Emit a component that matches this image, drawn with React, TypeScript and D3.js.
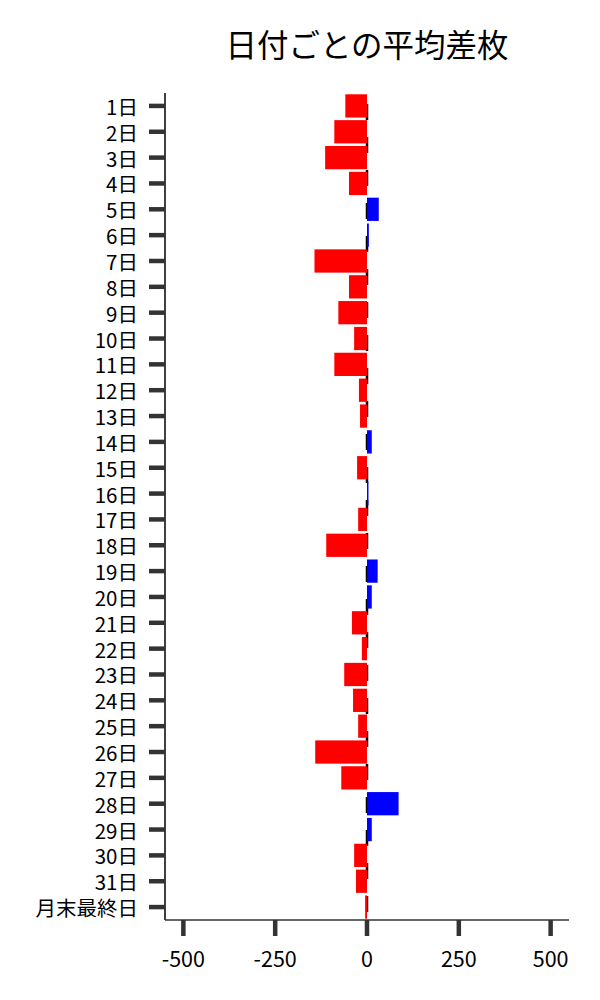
import React from "react";
import * as d3 from "d3";

const days: string[] = [
  "1日","2日","3日","4日","5日","6日","7日","8日","9日","10日",
  "11日","12日","13日","14日","15日","16日","17日","18日","19日","20日",
  "21日","22日","23日","24日","25日","26日","27日","28日","29日","30日",
  "31日","月末最終日",
];
const avgDiff: number[] = [
  -59, -89, -114, -49, 32, 5, -143, -49, -78, -35,
  -89, -22, -19, 13, -27, 4, -24, -111, 29, 13,
  -41, -14, -62, -38, -24, -141, -70, 86, 13, -35,
  -30, -5,
];
const xTicks: number[] = [-500, -250, 0, 250, 500];
const xDomain: [number, number] = [-550, 550];
const title = "日付ごとの平均差枚";

const W = 600;
const H = 1000;
const left = 165;
const right = 569;
const top = 93;
const bottom = 920;
const FONT = "'Noto Sans CJK JP', 'Noto Sans', sans-serif";

export default function App() {
  const x = d3.scaleLinear().domain(xDomain).range([left, right]);
  const y = d3
    .scaleBand<string>()
    .domain(days)
    .range([top, bottom])
    .paddingInner(0.1)
    .paddingOuter(0.05);
  const bw = y.bandwidth();
  const x0 = x(0);

  return (
    <svg
      width={W}
      height={H}
      style={{ position: "absolute", left: 0, top: 0, background: "#fff" }}
      fontFamily={FONT}
    >
      <text x={(left + right) / 2} y={43} textAnchor="middle" dominantBaseline="central" fontSize={31.5} fill="#000">
        {title}
      </text>
      {/* dashed zero line */}
      <line
        x1={x0}
        x2={x0}
        y1={top}
        y2={bottom}
        stroke="#000"
        strokeWidth={2.5}
        strokeDasharray="16 17"
        strokeDashoffset={22}
      />
      {/* bars */}
      {days.map((d, i) => {
        const v = avgDiff[i];
        const x1 = x(Math.min(0, v));
        const x2 = x(Math.max(0, v));
        return (
          <rect
            key={d}
            x={x1}
            y={y(d)!}
            width={Math.max(0.8, x2 - x1)}
            height={bw}
            fill={v < 0 ? "#ff0000" : "#0000ff"}
          />
        );
      })}
      {/* left spine */}
      <line x1={left} x2={left} y1={top} y2={bottom} stroke="#000" strokeWidth={1.5} />
      {/* bottom spine */}
      <line x1={left} x2={right} y1={bottom} y2={bottom} stroke="#333" strokeWidth={1.5} />
      {/* y ticks */}
      {days.map((d) => {
        const cy = y(d)! + bw / 2;
        return (
          <g key={"yt" + d}>
            <line x1={149} x2={left} y1={cy} y2={cy} stroke="#333" strokeWidth={4.5} />
            <text x={138} y={cy} textAnchor="end" dominantBaseline="central" fontSize={20.5} fill="#000">
              {d}
            </text>
          </g>
        );
      })}
      {/* x ticks */}
      {xTicks.map((t) => (
        <g key={"xt" + t}>
          <line x1={x(t)} x2={x(t)} y1={bottom} y2={bottom + 16} stroke="#333" strokeWidth={4.5} />
          <text x={x(t)} y={957} textAnchor="middle" dominantBaseline="central" fontSize={21.5} fill="#000">
            {t}
          </text>
        </g>
      ))}
    </svg>
  );
}
